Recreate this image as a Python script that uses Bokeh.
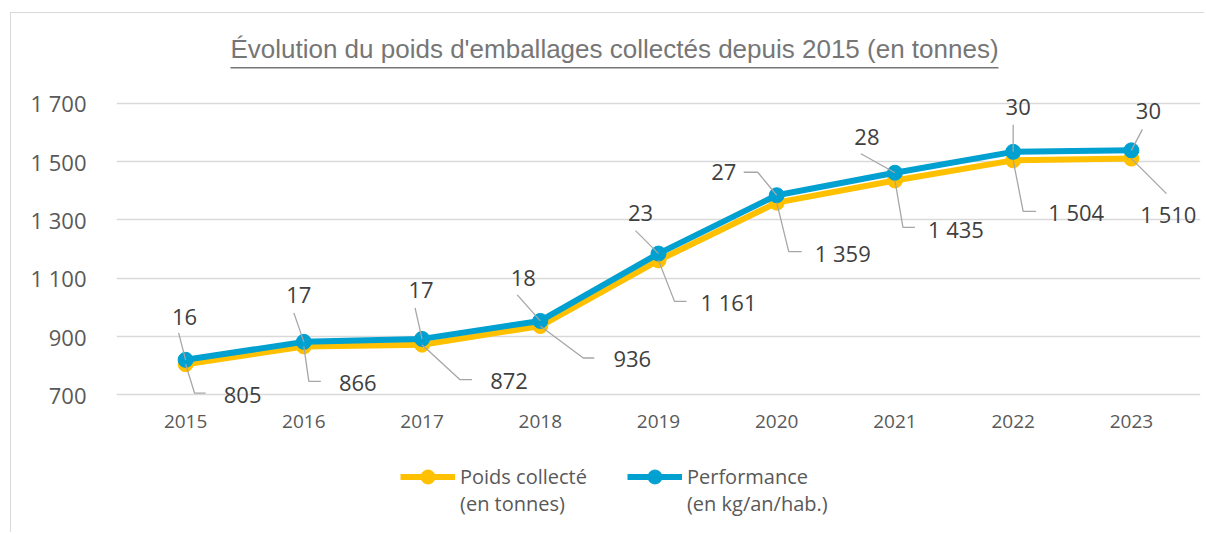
from bokeh.plotting import figure
from bokeh.models import (ColumnDataSource, Range1d, FixedTicker,
                          Legend, LegendItem, LabelSet, Label, BoxAnnotation)
from bokeh.embed import file_html
from bokeh.resources import INLINE
from bokeh.core.properties import value

# ---------------- data ----------------
years = [2015, 2016, 2017, 2018, 2019, 2020, 2021, 2022, 2023]
year_labels = ["2015", "2016", "2017", "2018", "2019", "2020", "2021", "2022", "2023"]
poids = [805, 866, 872, 936, 1161, 1359, 1435, 1504, 1510]          # tonnes
performance = [15.8, 17.0, 17.2, 18.4, 22.9, 26.8, 28.3, 29.7, 29.8]  # kg/an/hab.
y_ticks = [700, 900, 1100, 1300, 1500, 1700]
y_tick_labels = ["700", "900", "1 100", "1 300", "1 500", "1 700"]
title_text = "Évolution du poids d'emballages collectés depuis 2015 (en tonnes)"
series_names = ["Poids collecté\n(en tonnes)", "Performance\n(en kg/an/hab.)"]

# ---------------- layout / style ----------------
YELLOW = "#FFC000"
BLUE = "#00A0D0"
GRID = "#D9D9D9"
AXIS_TXT = "#595959"
LBL_TXT = "#404040"
TITLE_TXT = "#767676"
LEADER = "#A6A6A6"
FONT = "Open Sans"

W, H = 1194, 520
FL, FR, FT, FB = 105, 5, 15, 0
FRAME_W, FRAME_H = W - FL - FR, H - FT - FB      # 1084 x 505
PX_PER_UNIT = 0.29167                            # vertical scale of the primary axis
Y_TOP = 1956                                     # frame extends above 1700 to hold the title
Y_VIEW = (Y_TOP - FRAME_H / PX_PER_UNIT, Y_TOP)
X_AXIS_AT = 660                                  # where the year labels hang
X_PAD = 0.0846
PERF_SCALE, PERF_SHIFT = 51.3, 9.5               # hidden secondary axis alignment
PERF_RANGE = tuple((v - PERF_SHIFT) / PERF_SCALE for v in Y_VIEW)

# label placement (pixels, screen-down positive), relative to each point
poids_lbl_off = [(57, 31), (54, 37), (87, 36), (92, 33), (70, 42), (66, 50), (61, 49), (63, 52), (37, 55)]
perf_lbl_off = [(-1, -43), (-5, -47), (-1, -49), (-17, -43), (-18, -41), (-53, -23), (-28, -36), (5, -45), (17, -39)]
poids_leader = [[(0, 0), (9, 29), (20, 29)], [(0, 0), (5, 35), (17, 35)], [(0, 0), (38, 35), (50, 35)],
                [(0, 0), (43, 32), (54, 32)], [(0, 0), (16, 41), (28, 41)], [(0, 0), (12, 49), (25, 49)],
                [(0, 0), (8, 47), (20, 47)], [(0, 0), (10, 51), (23, 51)], [(0, 0), (35, 35)]]
perf_leader = [[(-7, -27), (0, 0)], [(-10, -29), (0, 0)], [(-7, -31), (0, 0)], [(-23, -26), (0, 0)],
               [(-23, -23), (0, 0)], [(-33, -23), (-19, -23), (0, 0)], [(-34, -19), (0, 0)],
               [(0, -27), (0, 0)], [(11, -21), (0, 0)]]


def fr_fmt(v):
    return f"{v:,.0f}".replace(",", " ")


src = ColumnDataSource(dict(
    year=years,
    poids=poids,
    perf=performance,
    poids_lbl=[fr_fmt(v) for v in poids],
    perf_lbl=[str(int(round(v))) for v in performance],
    pxo=[o[0] for o in poids_lbl_off],
    pyo=[-o[1] for o in poids_lbl_off],
    bxo=[o[0] for o in perf_lbl_off],
    byo=[-o[1] for o in perf_lbl_off],
))

p = figure(width=W, height=H,
           x_range=Range1d(years[0] - 0.5 - X_PAD, years[-1] + 0.5 + X_PAD),
           y_range=Range1d(*Y_VIEW),
           output_backend="svg", toolbar_location=None,
           min_border_left=FL, min_border_right=FR, min_border_top=FT, min_border_bottom=FB)
p.extra_y_ranges = {"perf": Range1d(*PERF_RANGE)}
p.outline_line_color = None
p.background_fill_color = "white"
p.border_fill_color = "white"
p.styles = {"margin-left": "10px", "margin-top": "12px",
            "border-left": "1px solid #D9D9D9", "border-top": "1px solid #D9D9D9"}

# axes
p.yaxis.ticker = FixedTicker(ticks=y_ticks)
p.yaxis.major_label_overrides = {t: l for t, l in zip(y_ticks, y_tick_labels)}
p.xaxis.ticker = FixedTicker(ticks=years)
p.xaxis.major_label_overrides = {t: l for t, l in zip(years, year_labels)}
p.xaxis.fixed_location = X_AXIS_AT
for ax in (p.xaxis[0], p.yaxis[0]):
    ax.axis_line_color = None
    ax.major_tick_line_color = None
    ax.minor_tick_line_color = None
    ax.major_label_text_color = AXIS_TXT
    ax.major_label_text_font = FONT
p.yaxis.major_label_text_font_size = "22px"
p.yaxis.major_label_standoff = 24
p.xaxis.major_label_text_font_size = "19px"
p.xaxis.major_label_standoff = 2
p.ygrid.ticker = FixedTicker(ticks=y_ticks)
p.ygrid.grid_line_color = GRID
p.ygrid.grid_line_width = 1.3
p.xgrid.grid_line_color = None

# series
yl = p.line("year", "poids", source=src, line_color=YELLOW, line_width=6, line_join="round")
ys = p.scatter("year", "poids", source=src, size=15, fill_color=YELLOW, line_color=YELLOW)
bl = p.line("year", "perf", source=src, line_color=BLUE, line_width=6, line_join="round",
            y_range_name="perf")
bs = p.scatter("year", "perf", source=src, size=15, fill_color=BLUE, line_color=BLUE,
               y_range_name="perf")

# leader lines (pixel offsets converted through the frame scale)
cat_px = FRAME_W / (years[-1] - years[0] + 1 + 2 * X_PAD)
u_poids = 1 / PX_PER_UNIT
u_perf = u_poids / PERF_SCALE


def leaders(vals, pts, unit):
    xs, yss = [], []
    for yr, v, path in zip(years, vals, pts):
        xs.append([yr + dx / cat_px for dx, dy in path])
        yss.append([v - dy * unit for dx, dy in path])
    return xs, yss


lx, ly = leaders(poids, poids_leader, u_poids)
p.multi_line(lx, ly, line_color=LEADER, line_width=1.3)
lx2, ly2 = leaders(performance, perf_leader, u_perf)
p.multi_line(lx2, ly2, line_color=LEADER, line_width=1.3, y_range_name="perf")

# data labels
p.add_layout(LabelSet(x="year", y="poids", text="poids_lbl", source=src,
                      x_offset="pxo", y_offset="pyo", text_align="center", text_baseline="middle",
                      text_font=value(FONT), text_font_size="22px", text_color=LBL_TXT))
p.add_layout(LabelSet(x="year", y="perf", text="perf_lbl", source=src, y_range_name="perf",
                      x_offset="bxo", y_offset="byo", text_align="center", text_baseline="middle",
                      text_font=value(FONT), text_font_size="22px", text_color=LBL_TXT))

# title with underline (screen units, measured from the frame's bottom-left corner)
p.add_layout(Label(x=498, y=485, x_units="screen", y_units="screen", text=title_text,
                   text_align="center", text_baseline="middle",
                   text_font="Liberation Sans", text_font_size="26px", text_color=TITLE_TXT))
p.add_layout(BoxAnnotation(left=114, right=882, bottom=465, top=466.5,
                           left_units="screen", right_units="screen",
                           top_units="screen", bottom_units="screen",
                           fill_color=TITLE_TXT, fill_alpha=1, line_color=None))

# legend (a leading empty line keeps the glyph level with the first text line)
legend = Legend(items=[LegendItem(label="\n" + series_names[0], renderers=[yl, ys]),
                       LegendItem(label="\n" + series_names[1], renderers=[bl, bs])],
                orientation="horizontal", location=(284, 16),
                glyph_width=55, glyph_height=35, label_standoff=5, spacing=40,
                padding=0, margin=0, border_line_color=None, background_fill_alpha=0,
                label_text_font=FONT, label_text_font_size="20px", label_text_color=AXIS_TXT,
                label_text_line_height=1.55)
p.add_layout(legend, "center")

open("out.html", "w").write(file_html(p, INLINE))
